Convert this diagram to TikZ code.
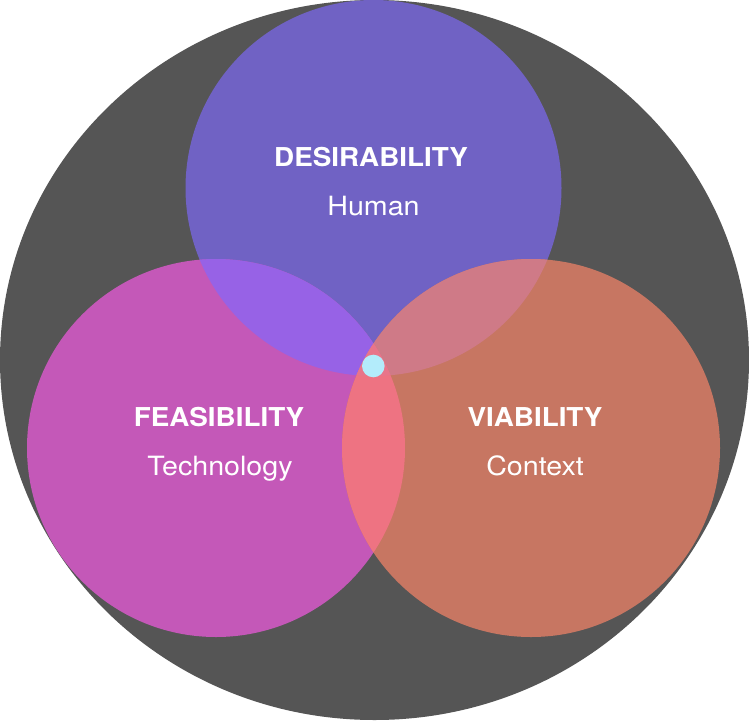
\documentclass[tikz,border=0pt]{standalone}
\usepackage{fontspec}
\setmainfont{TeX Gyre Heros}
\definecolor{bgdark}{HTML}{555555}
\definecolor{topc}{HTML}{7062C4}
\definecolor{leftc}{HTML}{C458B8}
\definecolor{rightc}{HTML}{C77662}
\definecolor{tlc}{HTML}{9762E6}
\definecolor{trc}{HTML}{CF7A87}
\definecolor{lrc}{HTML}{EE7382}
\definecolor{triplec}{HTML}{E8758A}
\definecolor{dotc}{HTML}{B3ECFB}
\tikzset{
  head/.style={text=white, anchor=base, font=\bfseries\fontsize{26}{30}\selectfont, inner sep=0pt, xscale=1.07},
  sub/.style={text=white, anchor=base, font=\fontsize{26.5}{30}\selectfont, inner sep=0pt, xscale=1.08},
}
\begin{document}
\begin{tikzpicture}[x=1pt,y=-1pt]
\useasboundingbox (0,0) rectangle (749,720);
\def\topcirc{(373.5,188) circle[radius=188]}
\def\leftcirc{(216,448) circle[radius=189]}
\def\rightcirc{(531,448) circle[radius=189]}
\fill[bgdark] (374.5,360) ellipse[x radius=374.5, y radius=360];
\fill[topc] \topcirc;
\fill[leftc] \leftcirc;
\fill[rightc] \rightcirc;
\begin{scope}\clip \topcirc; \fill[tlc] \leftcirc; \end{scope}
\begin{scope}\clip \topcirc; \fill[trc] \rightcirc; \end{scope}
\begin{scope}\clip \leftcirc; \fill[lrc] \rightcirc; \end{scope}
\begin{scope}\clip \topcirc; \clip \leftcirc; \fill[triplec] \rightcirc; \end{scope}
\fill[dotc] (373.3,366) circle[radius=11.3];
\node[head, transform shape] (des) at (371,166.5) {DESIRABILITY};
\node[sub, transform shape] (hum) at (373.5,215) {Human};
\node[head, transform shape] (fea) at (219,426.5) {FEASIBILITY};
\node[sub, transform shape] (tec) at (220,475) {Technology};
\node[head, transform shape] (via) at (535,426.5) {VIABILITY};
\node[sub, transform shape] (con) at (535,475) {Context};
\end{tikzpicture}
\end{document}
